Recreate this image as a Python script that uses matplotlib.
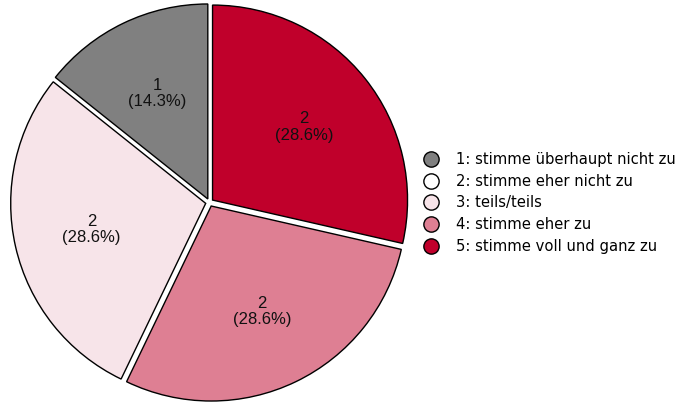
import matplotlib.pyplot as plt
from matplotlib.lines import Line2D

# answer categories and their counts
categories = [
    "1: stimme überhaupt nicht zu",
    "2: stimme eher nicht zu",
    "3: teils/teils",
    "4: stimme eher zu",
    "5: stimme voll und ganz zu",
]
counts = [1, 0, 2, 2, 2]
colors = ["#808080", "#ffffff", "#f7e4e9", "#de7f93", "#c0002b"]

total = sum(counts)
# empty categories get no wedge, only a legend entry
shown = [i for i, c in enumerate(counts) if c > 0]


def label(pct):
    n = int(round(pct * total / 100.0))
    return "%d\n(%.1f%%)" % (n, pct)


fig = plt.figure(figsize=(6.81, 4.03), dpi=100)
W, H = 681.0, 403.0
lim = 1.05
half = 195 * lim
cx, cy = 209.5, 200.5
ax = fig.add_axes([(cx - half) / W, (cy - half) / H, 2 * half / W, 2 * half / H])

wedges, texts, autotexts = ax.pie(
    [counts[i] for i in shown],
    colors=[colors[i] for i in shown],
    startangle=90,
    counterclock=True,
    explode=[0.02] * len(shown),
    autopct=label,
    pctdistance=0.6,
    wedgeprops=dict(edgecolor="black", linewidth=1),
    textprops=dict(family="Liberation Sans", fontsize=12, color="#111111"),
)
for t in autotexts:
    t.set_linespacing(1.15)
ax.set_xlim(-lim, lim)
ax.set_ylim(-lim, lim)
ax.set_aspect("equal")
ax.axis("off")

handles = [
    Line2D([], [], marker="o", linestyle="", markersize=11,
           markerfacecolor=c, markeredgecolor="black", markeredgewidth=1)
    for c in colors
]
fig.legend(
    handles, categories,
    loc="center left",
    bbox_to_anchor=(424 / W, 1 - 203 / H),
    frameon=False,
    fontsize=10.6,
    handlelength=1.0,
    handletextpad=1.15,
    labelspacing=0.45,
    borderaxespad=0,
    borderpad=0,
)

fig.savefig("out.png", dpi=100)
